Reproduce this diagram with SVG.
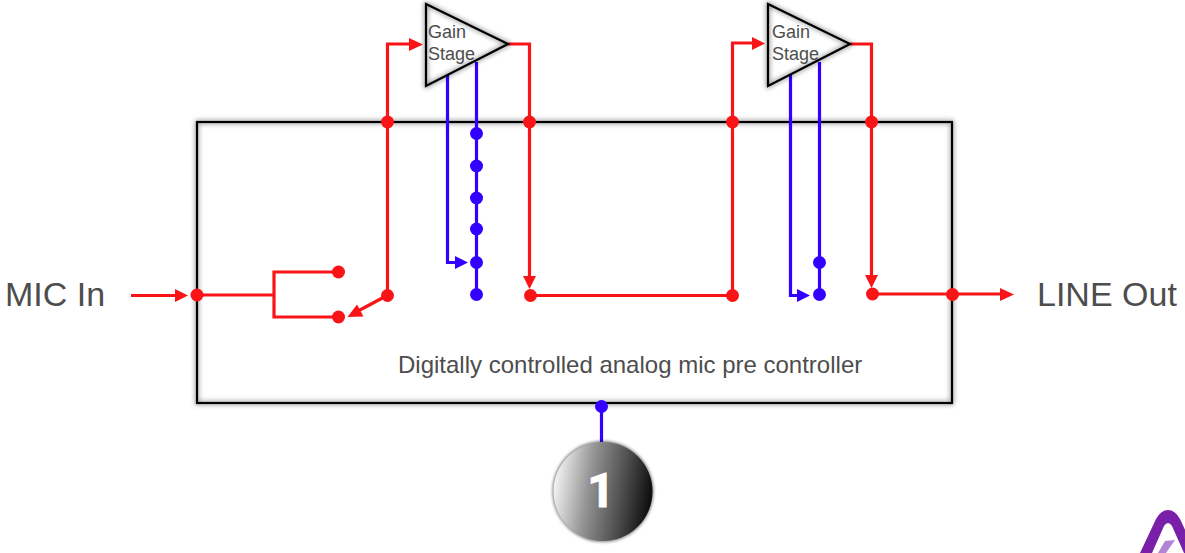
<svg xmlns="http://www.w3.org/2000/svg" width="1185" height="553" viewBox="0 0 1185 553">
  <style>
    .t{font-family:"Liberation Sans",Arial,sans-serif;fill:#4d4d4d}
    .r{fill:none;stroke:#f91417;stroke-width:3.200}
    .b{fill:none;stroke:#3300ff;stroke-width:3.200}
    .rd{fill:#f91417}
    .bd{fill:#3300ff}
    .tri{fill:none;stroke:#000;stroke-width:2.2;stroke-linejoin:miter}
  </style>
  <defs>
    <filter id="glowBox" x="-5%" y="-5%" width="110%" height="110%">
      <feGaussianBlur stdDeviation="2.4"/>
    </filter>
    <filter id="glowT" x="-20%" y="-20%" width="140%" height="140%">
      <feGaussianBlur stdDeviation="2.4"/>
    </filter>
    <filter id="glowC" x="-15%" y="-15%" width="130%" height="130%">
      <feGaussianBlur stdDeviation="1.6"/>
    </filter>
    <linearGradient id="ball" x1="0" y1="0.42" x2="1" y2="0.58">
      <stop offset="0" stop-color="#f4f4f4"/>
      <stop offset="0.35" stop-color="#949494"/>
      <stop offset="0.7" stop-color="#4c4c4c"/>
      <stop offset="1" stop-color="#0a0a0a"/>
    </linearGradient>
    <clipPath id="logoClip"><rect x="1120" y="493" width="65" height="60"/></clipPath>
  </defs>

  <g id="controller">
    <rect x="197" y="122" width="755" height="281" fill="none" stroke="#000" stroke-width="3" stroke-opacity="0.5" filter="url(#glowBox)"/>
    <rect x="197" y="122" width="755" height="281" fill="none" stroke="#000" stroke-width="2.2"/>
    <text class="t" x="398" y="373" font-size="24">Digitally controlled analog mic pre controller</text>
  </g>

  <g id="mic-in"><text class="t" x="5" y="306" font-size="34">MIC In</text></g>
  <g id="line-out"><text class="t" x="1037" y="306" font-size="34">LINE Out</text></g>

  <g id="connectors">
    <path class="r" d="M131 295.500H178"/>
    <path class="rd" d="M175 289L188 295.500L175 302Z"/>
    <path class="r" d="M197 295H274M338 272H274V317H338"/>
    <path class="r" d="M388 295L358 311"/>
    <path class="rd" d="M347.500 317L357 304.500L363.500 316.500Z"/>
    <path class="r" d="M387.500 295V44H412"/>
    <path class="rd" d="M409 38L423 44.500L409 51Z"/>
    <path class="r" d="M508 44H529.500V280"/>
    <path class="rd" d="M523 276H536L529.500 289Z"/>
    <path class="r" d="M531 295.500H732.500V43H754"/>
    <path class="rd" d="M752 37L765 43.500L752 50Z"/>
    <path class="r" d="M850 44H871.500V280"/>
    <path class="rd" d="M865 275H878L871.500 288Z"/>
    <path class="r" d="M873 294H1002"/>
    <path class="rd" d="M1000 288L1014 294.500L1000 301Z"/>
    <path class="b" d="M447.500 73V262.500H458"/>
    <path class="bd" d="M455 256L468 262.500L455 269Z"/>
    <path class="b" d="M476.500 62V294"/>
    <path class="b" d="M790.500 74V295.500H800"/>
    <path class="bd" d="M797 289L810 295.500L797 302Z"/>
    <path class="b" d="M819.500 62V294"/>
    <path class="b" d="M601.500 407V442"/>
    <g class="rd">
      <circle cx="197" cy="295" r="6.500"/>
      <circle cx="338.500" cy="272" r="6.500"/>
      <circle cx="338.500" cy="317" r="6.500"/>
      <circle cx="387.500" cy="295.500" r="6.500"/>
      <circle cx="387.500" cy="122" r="6.500"/>
      <circle cx="529.500" cy="122" r="6.500"/>
      <circle cx="732.500" cy="122" r="6.500"/>
      <circle cx="871.500" cy="122" r="6.500"/>
      <circle cx="530.500" cy="295.500" r="6.500"/>
      <circle cx="732.500" cy="295.500" r="6.500"/>
      <circle cx="872.500" cy="294" r="6.500"/>
      <circle cx="952.500" cy="294.500" r="6.500"/>
    </g>
    <g class="bd">
      <circle cx="476.500" cy="133.500" r="6.500"/>
      <circle cx="476.500" cy="166" r="6.500"/>
      <circle cx="476.500" cy="198" r="6.500"/>
      <circle cx="476.500" cy="229" r="6.500"/>
      <circle cx="476.500" cy="262.500" r="6.500"/>
      <circle cx="476.500" cy="294.500" r="6.500"/>
      <circle cx="819.500" cy="262.500" r="6.500"/>
      <circle cx="819.500" cy="294.500" r="6.500"/>
      <circle cx="601.500" cy="406.500" r="6.500"/>
    </g>
  </g>

  <g id="gain-stage-1">
    <path d="M426 4L508 44L426 86Z" fill="#fff"/>
    <path d="M426 4L508 44L426 86Z" fill="none" stroke="#000" stroke-width="3" stroke-opacity=".55" filter="url(#glowT)"/>
    <path class="tri" d="M426 4L508 44L426 86Z"/>
    <text class="t" x="428" y="38" font-size="18">Gain</text>
    <text class="t" x="428" y="60" font-size="18">Stage</text>
  </g>
  <g id="gain-stage-2">
    <path d="M768 4L850 44L768 86Z" fill="#fff"/>
    <path d="M768 4L850 44L768 86Z" fill="none" stroke="#000" stroke-width="3" stroke-opacity=".55" filter="url(#glowT)"/>
    <path class="tri" d="M768 4L850 44L768 86Z"/>
    <text class="t" x="772" y="38" font-size="18">Gain</text>
    <text class="t" x="772" y="60" font-size="18">Stage</text>
  </g>

  <g id="badge-1">
    <circle cx="603" cy="491.500" r="50.500" fill="#000" fill-opacity="0.5" filter="url(#glowC)"/>
    <circle cx="603" cy="491.500" r="49.500" fill="url(#ball)"/>
    <text x="601" y="507" font-family="Roboto,'Liberation Sans',sans-serif" font-weight="bold" font-size="48" fill="#fff" stroke="#fff" stroke-width="1" text-anchor="middle">1</text>
  </g>

  <g id="logo" clip-path="url(#logoClip)">
    <path d="M1140 553L1156 519Q1161 510 1168 510Q1175 510 1180 519L1196 553H1184L1172 526Q1168 520 1164 526L1152 553Z" fill="#7a1fa8"/>
    <path d="M1158 553L1165 541L1175 540L1166 553Z" fill="#b384d6"/>
  </g>
</svg>
